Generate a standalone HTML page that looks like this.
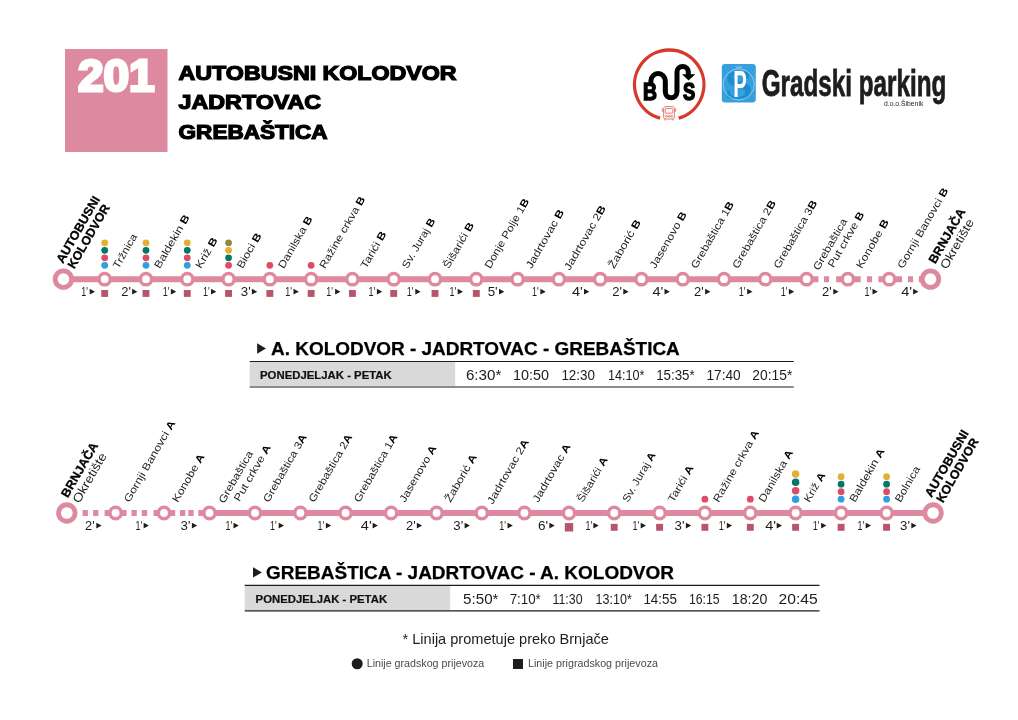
<!DOCTYPE html>
<html lang="hr"><head><meta charset="utf-8"><title>201 Autobusni kolodvor - Jadrtovac - Grebaštica</title>
<style>html,body{margin:0;padding:0;background:#fff}body{width:1018px;height:720px;overflow:hidden}svg{display:block}</style></head>
<body>
<svg width="1018" height="720" viewBox="0 0 1018 720" font-family="'Liberation Sans', 'DejaVu Sans', sans-serif" fill="#1d1d1b">
<rect width="1018" height="720" fill="#fff"/>
<rect x="65" y="49" width="102.5" height="103" fill="#DD8AA0"/>
<text x="77.9" y="90.6" font-size="44.4" font-weight="bold" fill="#fff" stroke="#fff" stroke-width="3" stroke-linejoin="miter" textLength="76.6" lengthAdjust="spacingAndGlyphs">201</text>
<text x="178.6" y="80.1" font-size="19.4" font-weight="bold" fill="#000" stroke="#000" stroke-width="1.2" stroke-linejoin="miter" textLength="278" lengthAdjust="spacingAndGlyphs">AUTOBUSNI KOLODVOR</text>
<text x="178.6" y="109.3" font-size="19.4" font-weight="bold" fill="#000" stroke="#000" stroke-width="1.2" stroke-linejoin="miter" textLength="142.5" lengthAdjust="spacingAndGlyphs">JADRTOVAC</text>
<text x="178.6" y="138.6" font-size="19.4" font-weight="bold" fill="#000" stroke="#000" stroke-width="1.2" stroke-linejoin="miter" textLength="149" lengthAdjust="spacingAndGlyphs">GREBAŠTICA</text>

<g id="bus-logo">
<path d="M660.1 118.2A34.7 34.7 0 1 1 678.7 118.1" fill="none" stroke="#D63A2C" stroke-width="3.3"/>
<g fill="#000" font-weight="bold" font-size="24.6">
<text x="643" y="99.7" textLength="14" lengthAdjust="spacingAndGlyphs" stroke="#000" stroke-width="1.5" font-size="23.4">B</text>
<text x="662.4" y="100.2" textLength="17.3" lengthAdjust="spacingAndGlyphs">U</text>
<text x="682.9" y="99.6" textLength="12.2" lengthAdjust="spacingAndGlyphs" stroke="#000" stroke-width="1.5" font-size="23">S</text>
</g>
<path d="M650.9 86V80.8A7.2 7.2 0 0 1 665.3 80.8V91.8A5.85 5.85 0 0 0 677 91.8V72.1A5.65 5.65 0 0 1 688.3 72.1V75" fill="none" stroke="#000" stroke-width="5"/>
<path d="M682 74.2H695.2L688.6 80.4z" fill="#000"/>
<g fill="none" stroke="#DE5A4E" stroke-width="0.8">
<rect x="663.6" y="106.6" width="10.8" height="12.4" rx="2"/>
<rect x="665.2" y="108.6" width="7.6" height="4.6" rx="0.6"/>
<path d="M662.4 108.4v3.4M675.6 108.4v3.4M665 119v1.6M673 119v1.6"/>
<circle cx="666.4" cy="116.3" r="0.9"/><circle cx="669" cy="116.3" r="0.9"/><circle cx="671.6" cy="116.3" r="0.9"/>
</g>
</g>
<g id="parking-logo">
<rect x="721.8" y="64" width="34" height="38.4" rx="3.2" fill="#36A0DC"/>
<text x="724.6" y="99" font-family="'Liberation Serif', 'DejaVu Serif', serif" font-weight="bold" font-size="42" fill="#1B8DD0" textLength="28.5" lengthAdjust="spacingAndGlyphs">S</text>
<circle cx="738.7" cy="84.4" r="15.6" fill="none" stroke="#fff" stroke-width="0.45"/>
<path d="M735.4 66.4l2 1.6l1.3 -1.4l1.3 1.4l2 -1.6" fill="none" stroke="#fff" stroke-width="0.5"/>
<text x="733.2" y="96.9" font-weight="bold" font-size="36.2" fill="#fff" textLength="13.6" lengthAdjust="spacingAndGlyphs">P</text>
<text x="761.7" y="95.5" font-weight="bold" font-size="37.6" fill="#1d1d1b" stroke="#1d1d1b" stroke-width="0.8" textLength="184.6" lengthAdjust="spacingAndGlyphs">Gradski parking</text>
<text x="884" y="105.8" font-size="6.6" fill="#1d1d1b" textLength="39.3" lengthAdjust="spacingAndGlyphs">d.o.o.Šibenik</text>
</g>

<g stroke="#DD8AA0" stroke-width="6" fill="none">
<path d="M63.4 279.15H818.42"/>
<path d="M823.92 279.15H829.12M836.12 279.15H847.91M847.91 279.15H860.71M866.91 279.15H872.11M878.41 279.15H889.2M889.2 279.15H902M907.9 279.15H913.1M918.8 279.15H930.49"/>
</g>
<g fill="#fff" stroke="#DD8AA0">
<circle cx="63.4" cy="279.15" r="8.25" stroke-width="4.8"/>
<circle cx="104.69" cy="279.15" r="5.65" stroke-width="3.5"/>
<circle cx="145.98" cy="279.15" r="5.65" stroke-width="3.5"/>
<circle cx="187.27" cy="279.15" r="5.65" stroke-width="3.5"/>
<circle cx="228.56" cy="279.15" r="5.65" stroke-width="3.5"/>
<circle cx="269.85" cy="279.15" r="5.65" stroke-width="3.5"/>
<circle cx="311.14" cy="279.15" r="5.65" stroke-width="3.5"/>
<circle cx="352.43" cy="279.15" r="5.65" stroke-width="3.5"/>
<circle cx="393.72" cy="279.15" r="5.65" stroke-width="3.5"/>
<circle cx="435.01" cy="279.15" r="5.65" stroke-width="3.5"/>
<circle cx="476.3" cy="279.15" r="5.65" stroke-width="3.5"/>
<circle cx="517.59" cy="279.15" r="5.65" stroke-width="3.5"/>
<circle cx="558.88" cy="279.15" r="5.65" stroke-width="3.5"/>
<circle cx="600.17" cy="279.15" r="5.65" stroke-width="3.5"/>
<circle cx="641.46" cy="279.15" r="5.65" stroke-width="3.5"/>
<circle cx="682.75" cy="279.15" r="5.65" stroke-width="3.5"/>
<circle cx="724.04" cy="279.15" r="5.65" stroke-width="3.5"/>
<circle cx="765.33" cy="279.15" r="5.65" stroke-width="3.5"/>
<circle cx="806.62" cy="279.15" r="5.65" stroke-width="3.5"/>
<circle cx="847.91" cy="279.15" r="5.65" stroke-width="3.5"/>
<circle cx="889.2" cy="279.15" r="5.65" stroke-width="3.5"/>
<circle cx="930.49" cy="279.15" r="8.25" stroke-width="4.8"/>
</g>
<g fill="#B5566B">
<rect x="101.24" y="290" width="6.9" height="6.9"/>
<rect x="142.53" y="290" width="6.9" height="6.9"/>
<rect x="183.82" y="290" width="6.9" height="6.9"/>
<rect x="225.11" y="290" width="6.9" height="6.9"/>
<rect x="266.4" y="290" width="6.9" height="6.9"/>
<rect x="307.69" y="290" width="6.9" height="6.9"/>
<rect x="348.98" y="290" width="6.9" height="6.9"/>
<rect x="390.27" y="290" width="6.9" height="6.9"/>
<rect x="431.56" y="290" width="6.9" height="6.9"/>
<rect x="472.85" y="290" width="6.9" height="6.9"/>
</g>
<circle cx="104.69" cy="265.3" r="3.4" fill="#2E9FDF"/>
<circle cx="104.69" cy="257.8" r="3.4" fill="#DD4B65"/>
<circle cx="104.69" cy="250.3" r="3.4" fill="#04776B"/>
<circle cx="104.69" cy="242.8" r="3.4" fill="#E5AE34"/>
<circle cx="145.98" cy="265.3" r="3.4" fill="#2E9FDF"/>
<circle cx="145.98" cy="257.8" r="3.4" fill="#DD4B65"/>
<circle cx="145.98" cy="250.3" r="3.4" fill="#04776B"/>
<circle cx="145.98" cy="242.8" r="3.4" fill="#E5AE34"/>
<circle cx="187.27" cy="265.3" r="3.4" fill="#2E9FDF"/>
<circle cx="187.27" cy="257.8" r="3.4" fill="#DD4B65"/>
<circle cx="187.27" cy="250.3" r="3.4" fill="#04776B"/>
<circle cx="187.27" cy="242.8" r="3.4" fill="#E5AE34"/>
<circle cx="228.56" cy="265.3" r="3.4" fill="#DD4B65"/>
<circle cx="228.56" cy="257.8" r="3.4" fill="#04776B"/>
<circle cx="228.56" cy="250.3" r="3.4" fill="#E5AE34"/>
<circle cx="228.56" cy="242.8" r="3.4" fill="#8F8A3B"/>
<circle cx="269.85" cy="265.3" r="3.4" fill="#DD4B65"/>
<circle cx="311.14" cy="265.3" r="3.4" fill="#DD4B65"/>
<g font-size="12.9">
<text x="81.3" y="295.8" textLength="6.7" lengthAdjust="spacingAndGlyphs">1'</text>
<path d="M89.7 288.8v5.8l5.3 -2.9z" fill="#1d1d1b"/>
<text x="121.3" y="295.8" textLength="9.7" lengthAdjust="spacingAndGlyphs">2'</text>
<path d="M132.1 288.8v5.8l5.3 -2.9z" fill="#1d1d1b"/>
<text x="162.7" y="295.8" textLength="6.7" lengthAdjust="spacingAndGlyphs">1'</text>
<path d="M170.9 288.8v5.8l5.3 -2.9z" fill="#1d1d1b"/>
<text x="203" y="295.8" textLength="6.7" lengthAdjust="spacingAndGlyphs">1'</text>
<path d="M211 288.8v5.8l5.3 -2.9z" fill="#1d1d1b"/>
<text x="240.8" y="295.8" textLength="9.9" lengthAdjust="spacingAndGlyphs">3'</text>
<path d="M251.9 288.8v5.8l5.3 -2.9z" fill="#1d1d1b"/>
<text x="285.3" y="295.8" textLength="6.7" lengthAdjust="spacingAndGlyphs">1'</text>
<path d="M293.5 288.8v5.8l5.3 -2.9z" fill="#1d1d1b"/>
<text x="326.3" y="295.8" textLength="6.7" lengthAdjust="spacingAndGlyphs">1'</text>
<path d="M335.1 288.8v5.8l5.3 -2.9z" fill="#1d1d1b"/>
<text x="368.5" y="295.8" textLength="6.7" lengthAdjust="spacingAndGlyphs">1'</text>
<path d="M376.9 288.8v5.8l5.3 -2.9z" fill="#1d1d1b"/>
<text x="406.8" y="295.8" textLength="6.7" lengthAdjust="spacingAndGlyphs">1'</text>
<path d="M415.3 288.8v5.8l5.3 -2.9z" fill="#1d1d1b"/>
<text x="449.4" y="295.8" textLength="6.7" lengthAdjust="spacingAndGlyphs">1'</text>
<path d="M457.7 288.8v5.8l5.3 -2.9z" fill="#1d1d1b"/>
<text x="487.7" y="295.8" textLength="10" lengthAdjust="spacingAndGlyphs">5'</text>
<path d="M499 288.8v5.8l5.3 -2.9z" fill="#1d1d1b"/>
<text x="531.9" y="295.8" textLength="6.7" lengthAdjust="spacingAndGlyphs">1'</text>
<path d="M540.4 288.8v5.8l5.3 -2.9z" fill="#1d1d1b"/>
<text x="571.9" y="295.8" textLength="10.9" lengthAdjust="spacingAndGlyphs">4'</text>
<path d="M584 288.8v5.8l5.3 -2.9z" fill="#1d1d1b"/>
<text x="612.3" y="295.8" textLength="9.7" lengthAdjust="spacingAndGlyphs">2'</text>
<path d="M623.3 288.8v5.8l5.3 -2.9z" fill="#1d1d1b"/>
<text x="652.4" y="295.8" textLength="10.9" lengthAdjust="spacingAndGlyphs">4'</text>
<path d="M664.5 288.8v5.8l5.3 -2.9z" fill="#1d1d1b"/>
<text x="694" y="295.8" textLength="9.7" lengthAdjust="spacingAndGlyphs">2'</text>
<path d="M705.1 288.8v5.8l5.3 -2.9z" fill="#1d1d1b"/>
<text x="738.7" y="295.8" textLength="6.7" lengthAdjust="spacingAndGlyphs">1'</text>
<path d="M747.2 288.8v5.8l5.3 -2.9z" fill="#1d1d1b"/>
<text x="780.7" y="295.8" textLength="6.7" lengthAdjust="spacingAndGlyphs">1'</text>
<path d="M788.9 288.8v5.8l5.3 -2.9z" fill="#1d1d1b"/>
<text x="822.1" y="295.8" textLength="9.7" lengthAdjust="spacingAndGlyphs">2'</text>
<path d="M833.3 288.8v5.8l5.3 -2.9z" fill="#1d1d1b"/>
<text x="864.4" y="295.8" textLength="6.7" lengthAdjust="spacingAndGlyphs">1'</text>
<path d="M872.5 288.8v5.8l5.3 -2.9z" fill="#1d1d1b"/>
<text x="901.2" y="295.8" textLength="10.9" lengthAdjust="spacingAndGlyphs">4'</text>
<path d="M913.1 288.8v5.8l5.3 -2.9z" fill="#1d1d1b"/>
</g>
<text transform="translate(62.9 264.05) rotate(-60)" font-size="12.3" font-weight="bold" fill="#000" stroke="#000" stroke-width="0.3" textLength="75" lengthAdjust="spacingAndGlyphs">AUTOBUSNI</text>
<text transform="translate(74.3 269.55) rotate(-60)" font-size="12.3" font-weight="bold" fill="#000" stroke="#000" stroke-width="0.3" textLength="71.8" lengthAdjust="spacingAndGlyphs">KOLODVOR</text>
<text transform="translate(118.54 269.25) rotate(-60)" font-size="10.4" textLength="37.92" lengthAdjust="spacingAndGlyphs" xml:space="preserve">Tržnica</text>
<text transform="translate(159.83 269.25) rotate(-60)" font-size="10.4" textLength="60.2" lengthAdjust="spacingAndGlyphs" xml:space="preserve">Baldekin <tspan font-weight="bold" fill="#000">B</tspan></text>
<text transform="translate(201.12 269.25) rotate(-60)" font-size="10.4" textLength="33.75" lengthAdjust="spacingAndGlyphs" xml:space="preserve">Križ <tspan font-weight="bold" fill="#000">B</tspan></text>
<text transform="translate(242.41 269.25) rotate(-60)" font-size="10.4" textLength="38.96" lengthAdjust="spacingAndGlyphs" xml:space="preserve">Bioci <tspan font-weight="bold" fill="#000">B</tspan></text>
<text transform="translate(283.7 269.25) rotate(-60)" font-size="10.4" textLength="58.47" lengthAdjust="spacingAndGlyphs" xml:space="preserve">Danilska <tspan font-weight="bold" fill="#000">B</tspan></text>
<text transform="translate(324.99 269.25) rotate(-60)" font-size="10.4" textLength="81.22" lengthAdjust="spacingAndGlyphs" xml:space="preserve">Ražine crkva <tspan font-weight="bold" fill="#000">B</tspan></text>
<text transform="translate(366.28 269.25) rotate(-60)" font-size="10.4" textLength="40.9" lengthAdjust="spacingAndGlyphs" xml:space="preserve">Tarići <tspan font-weight="bold" fill="#000">B</tspan></text>
<text transform="translate(407.57 269.25) rotate(-60)" font-size="10.4" textLength="56.2" lengthAdjust="spacingAndGlyphs" xml:space="preserve">Sv. Juraj <tspan font-weight="bold" fill="#000">B</tspan></text>
<text transform="translate(448.86 269.25) rotate(-60)" font-size="10.4" textLength="51.31" lengthAdjust="spacingAndGlyphs" xml:space="preserve">Šišarići <tspan font-weight="bold" fill="#000">B</tspan></text>
<text transform="translate(490.15 269.25) rotate(-60)" font-size="10.4" textLength="78.7" lengthAdjust="spacingAndGlyphs" xml:space="preserve">Donje Polje 1<tspan font-weight="bold" fill="#000">B</tspan></text>
<text transform="translate(531.44 269.25) rotate(-60)" font-size="10.4" textLength="66.1" lengthAdjust="spacingAndGlyphs" xml:space="preserve">Jadrtovac <tspan font-weight="bold" fill="#000">B</tspan></text>
<text transform="translate(569.78 271.05) rotate(-60)" font-size="10.4" textLength="72.8" lengthAdjust="spacingAndGlyphs" xml:space="preserve">Jadrtovac 2<tspan font-weight="bold" fill="#000">B</tspan></text>
<text transform="translate(614.02 269.25) rotate(-60)" font-size="10.4" textLength="54.3" lengthAdjust="spacingAndGlyphs" xml:space="preserve">Žaborić <tspan font-weight="bold" fill="#000">B</tspan></text>
<text transform="translate(655.31 269.25) rotate(-60)" font-size="10.4" textLength="63.69" lengthAdjust="spacingAndGlyphs" xml:space="preserve">Jasenovo <tspan font-weight="bold" fill="#000">B</tspan></text>
<text transform="translate(696.6 269.25) rotate(-60)" font-size="10.4" textLength="75.3" lengthAdjust="spacingAndGlyphs" xml:space="preserve">Grebaštica 1<tspan font-weight="bold" fill="#000">B</tspan></text>
<text transform="translate(737.89 269.25) rotate(-60)" font-size="10.4" textLength="76.68" lengthAdjust="spacingAndGlyphs" xml:space="preserve">Grebaštica 2<tspan font-weight="bold" fill="#000">B</tspan></text>
<text transform="translate(779.18 269.25) rotate(-60)" font-size="10.4" textLength="76.68" lengthAdjust="spacingAndGlyphs" xml:space="preserve">Grebaštica 3<tspan font-weight="bold" fill="#000">B</tspan></text>
<text transform="translate(818.67 270.95) rotate(-60)" font-size="10.4" textLength="57.7" lengthAdjust="spacingAndGlyphs" xml:space="preserve">Grebaštica</text>
<text transform="translate(833.47 268.35) rotate(-60)" font-size="10.4" textLength="62.5" lengthAdjust="spacingAndGlyphs" xml:space="preserve">Put crkve <tspan font-weight="bold" fill="#000">B</tspan></text>
<text transform="translate(861.76 269.25) rotate(-60)" font-size="10.4" textLength="54.7" lengthAdjust="spacingAndGlyphs" xml:space="preserve">Konobe <tspan font-weight="bold" fill="#000">B</tspan></text>
<text transform="translate(903.05 269.25) rotate(-60)" font-size="10.4" textLength="91.2" lengthAdjust="spacingAndGlyphs" xml:space="preserve">Gornji Banovci <tspan font-weight="bold" fill="#000">B</tspan></text>
<text transform="translate(935.24 264.55) rotate(-60)" font-size="12.3" font-weight="bold" fill="#000" stroke="#000" stroke-width="0.3" textLength="61.3" lengthAdjust="spacingAndGlyphs">BRNJAČA</text>
<text transform="translate(946.64 270.05) rotate(-60)" font-size="12.2" textLength="55.6" lengthAdjust="spacingAndGlyphs">Okretište</text>
<g stroke="#DD8AA0" stroke-width="6" fill="none">
<path d="M198.3 513H933.1"/>
<path d="M82.6 513H87.9M93.1 513H98.4M104.6 513H126.5M131.5 513H136.8M141.8 513H147.2M153.5 513H175.2M179.9 513H185.3M188.3 513H193.6"/>
</g>
<g fill="#fff" stroke="#DD8AA0">
<circle cx="66.8" cy="513" r="8.25" stroke-width="4.8"/>
<circle cx="115.6" cy="513" r="5.65" stroke-width="3.5"/>
<circle cx="164" cy="513" r="5.65" stroke-width="3.5"/>
<circle cx="209.5" cy="513" r="5.65" stroke-width="3.5"/>
<circle cx="255" cy="513" r="5.65" stroke-width="3.5"/>
<circle cx="300.4" cy="513" r="5.65" stroke-width="3.5"/>
<circle cx="345.6" cy="513" r="5.65" stroke-width="3.5"/>
<circle cx="391.1" cy="513" r="5.65" stroke-width="3.5"/>
<circle cx="436.6" cy="513" r="5.65" stroke-width="3.5"/>
<circle cx="481.8" cy="513" r="5.65" stroke-width="3.5"/>
<circle cx="524.4" cy="513" r="5.65" stroke-width="3.5"/>
<circle cx="569" cy="513" r="5.65" stroke-width="3.5"/>
<circle cx="614.2" cy="513" r="5.65" stroke-width="3.5"/>
<circle cx="659.6" cy="513" r="5.65" stroke-width="3.5"/>
<circle cx="704.9" cy="513" r="5.65" stroke-width="3.5"/>
<circle cx="750.3" cy="513" r="5.65" stroke-width="3.5"/>
<circle cx="795.6" cy="513" r="5.65" stroke-width="3.5"/>
<circle cx="841.1" cy="513" r="5.65" stroke-width="3.5"/>
<circle cx="886.6" cy="513" r="5.65" stroke-width="3.5"/>
<circle cx="933.1" cy="513" r="8.25" stroke-width="4.8"/>
</g>
<g fill="#B5566B">
<rect x="564.8" y="523.1" width="8.4" height="8.4"/>
<rect x="610.75" y="523.85" width="6.9" height="6.9"/>
<rect x="656.15" y="523.85" width="6.9" height="6.9"/>
<rect x="701.45" y="523.85" width="6.9" height="6.9"/>
<rect x="746.85" y="523.85" width="6.9" height="6.9"/>
<rect x="792.15" y="523.85" width="6.9" height="6.9"/>
<rect x="837.65" y="523.85" width="6.9" height="6.9"/>
<rect x="883.15" y="523.85" width="6.9" height="6.9"/>
</g>
<circle cx="704.9" cy="499.15" r="3.4" fill="#DD4B65"/>
<circle cx="750.3" cy="499.15" r="3.4" fill="#DD4B65"/>
<circle cx="795.6" cy="499.15" r="3.75" fill="#2E9FDF"/>
<circle cx="795.6" cy="490.75" r="3.75" fill="#DD4B65"/>
<circle cx="795.6" cy="482.35" r="3.75" fill="#04776B"/>
<circle cx="795.6" cy="473.95" r="3.75" fill="#E5AE34"/>
<circle cx="841.1" cy="499.15" r="3.4" fill="#2E9FDF"/>
<circle cx="841.1" cy="491.65" r="3.4" fill="#DD4B65"/>
<circle cx="841.1" cy="484.15" r="3.4" fill="#04776B"/>
<circle cx="841.1" cy="476.65" r="3.4" fill="#E5AE34"/>
<circle cx="886.6" cy="499.15" r="3.4" fill="#2E9FDF"/>
<circle cx="886.6" cy="491.65" r="3.4" fill="#DD4B65"/>
<circle cx="886.6" cy="484.15" r="3.4" fill="#04776B"/>
<circle cx="886.6" cy="476.65" r="3.4" fill="#E5AE34"/>
<g font-size="12.9">
<text x="85" y="529.65" textLength="9.7" lengthAdjust="spacingAndGlyphs">2'</text>
<path d="M96.3 522.65v5.8l5.3 -2.9z" fill="#1d1d1b"/>
<text x="135.4" y="529.65" textLength="6.7" lengthAdjust="spacingAndGlyphs">1'</text>
<path d="M143.6 522.65v5.8l5.3 -2.9z" fill="#1d1d1b"/>
<text x="180.6" y="529.65" textLength="9.9" lengthAdjust="spacingAndGlyphs">3'</text>
<path d="M191.9 522.65v5.8l5.3 -2.9z" fill="#1d1d1b"/>
<text x="225.5" y="529.65" textLength="6.7" lengthAdjust="spacingAndGlyphs">1'</text>
<path d="M233.5 522.65v5.8l5.3 -2.9z" fill="#1d1d1b"/>
<text x="270" y="529.65" textLength="6.7" lengthAdjust="spacingAndGlyphs">1'</text>
<path d="M278.7 522.65v5.8l5.3 -2.9z" fill="#1d1d1b"/>
<text x="317.4" y="529.65" textLength="6.7" lengthAdjust="spacingAndGlyphs">1'</text>
<path d="M325.9 522.65v5.8l5.3 -2.9z" fill="#1d1d1b"/>
<text x="360.8" y="529.65" textLength="10.9" lengthAdjust="spacingAndGlyphs">4'</text>
<path d="M372.6 522.65v5.8l5.3 -2.9z" fill="#1d1d1b"/>
<text x="406" y="529.65" textLength="9.7" lengthAdjust="spacingAndGlyphs">2'</text>
<path d="M416.8 522.65v5.8l5.3 -2.9z" fill="#1d1d1b"/>
<text x="453.3" y="529.65" textLength="9.9" lengthAdjust="spacingAndGlyphs">3'</text>
<path d="M464.6 522.65v5.8l5.3 -2.9z" fill="#1d1d1b"/>
<text x="499.2" y="529.65" textLength="6.7" lengthAdjust="spacingAndGlyphs">1'</text>
<path d="M507.5 522.65v5.8l5.3 -2.9z" fill="#1d1d1b"/>
<text x="538" y="529.65" textLength="10.1" lengthAdjust="spacingAndGlyphs">6'</text>
<path d="M549.4 522.65v5.8l5.3 -2.9z" fill="#1d1d1b"/>
<text x="585.5" y="529.65" textLength="6.7" lengthAdjust="spacingAndGlyphs">1'</text>
<path d="M593.4 522.65v5.8l5.3 -2.9z" fill="#1d1d1b"/>
<text x="632.5" y="529.65" textLength="6.7" lengthAdjust="spacingAndGlyphs">1'</text>
<path d="M640.7 522.65v5.8l5.3 -2.9z" fill="#1d1d1b"/>
<text x="674.6" y="529.65" textLength="9.9" lengthAdjust="spacingAndGlyphs">3'</text>
<path d="M685.9 522.65v5.8l5.3 -2.9z" fill="#1d1d1b"/>
<text x="718.8" y="529.65" textLength="6.7" lengthAdjust="spacingAndGlyphs">1'</text>
<path d="M726.8 522.65v5.8l5.3 -2.9z" fill="#1d1d1b"/>
<text x="765.2" y="529.65" textLength="10.9" lengthAdjust="spacingAndGlyphs">4'</text>
<path d="M776.7 522.65v5.8l5.3 -2.9z" fill="#1d1d1b"/>
<text x="812.7" y="529.65" textLength="6.7" lengthAdjust="spacingAndGlyphs">1'</text>
<path d="M821.1 522.65v5.8l5.3 -2.9z" fill="#1d1d1b"/>
<text x="857.6" y="529.65" textLength="6.7" lengthAdjust="spacingAndGlyphs">1'</text>
<path d="M865.7 522.65v5.8l5.3 -2.9z" fill="#1d1d1b"/>
<text x="900.1" y="529.65" textLength="9.9" lengthAdjust="spacingAndGlyphs">3'</text>
<path d="M911.3 522.65v5.8l5.3 -2.9z" fill="#1d1d1b"/>
</g>
<text transform="translate(67.8 498.4) rotate(-60)" font-size="12.3" font-weight="bold" fill="#000" stroke="#000" stroke-width="0.3" textLength="61.3" lengthAdjust="spacingAndGlyphs">BRNJAČA</text>
<text transform="translate(79.2 503.9) rotate(-60)" font-size="12.2" textLength="55.6" lengthAdjust="spacingAndGlyphs">Okretište</text>
<text transform="translate(129.45 503.1) rotate(-60)" font-size="10.4" textLength="92.4" lengthAdjust="spacingAndGlyphs" xml:space="preserve">Gornji Banovci <tspan font-weight="bold" fill="#000">A</tspan></text>
<text transform="translate(177.85 503.1) rotate(-60)" font-size="10.4" textLength="53.94" lengthAdjust="spacingAndGlyphs" xml:space="preserve">Konobe <tspan font-weight="bold" fill="#000">A</tspan></text>
<text transform="translate(224.15 503.9) rotate(-60)" font-size="10.4" textLength="58.4" lengthAdjust="spacingAndGlyphs" xml:space="preserve">Grebaštica</text>
<text transform="translate(239.55 502.2) rotate(-60)" font-size="10.4" textLength="63.5" lengthAdjust="spacingAndGlyphs" xml:space="preserve">Put crkve <tspan font-weight="bold" fill="#000">A</tspan></text>
<text transform="translate(268.85 503.1) rotate(-60)" font-size="10.4" textLength="76.68" lengthAdjust="spacingAndGlyphs" xml:space="preserve">Grebaštica 3<tspan font-weight="bold" fill="#000">A</tspan></text>
<text transform="translate(314.25 503.1) rotate(-60)" font-size="10.4" textLength="76.68" lengthAdjust="spacingAndGlyphs" xml:space="preserve">Grebaštica 2<tspan font-weight="bold" fill="#000">A</tspan></text>
<text transform="translate(359.45 503.1) rotate(-60)" font-size="10.4" textLength="76.68" lengthAdjust="spacingAndGlyphs" xml:space="preserve">Grebaštica 1<tspan font-weight="bold" fill="#000">A</tspan></text>
<text transform="translate(404.95 503.1) rotate(-60)" font-size="10.4" textLength="63.69" lengthAdjust="spacingAndGlyphs" xml:space="preserve">Jasenovo <tspan font-weight="bold" fill="#000">A</tspan></text>
<text transform="translate(450.45 503.1) rotate(-60)" font-size="10.4" textLength="53.6" lengthAdjust="spacingAndGlyphs" xml:space="preserve">Žaborić <tspan font-weight="bold" fill="#000">A</tspan></text>
<text transform="translate(492.7 504.9) rotate(-60)" font-size="10.4" textLength="72.8" lengthAdjust="spacingAndGlyphs" xml:space="preserve">Jadrtovac 2<tspan font-weight="bold" fill="#000">A</tspan></text>
<text transform="translate(538.25 503.1) rotate(-60)" font-size="10.4" textLength="65.5" lengthAdjust="spacingAndGlyphs" xml:space="preserve">Jadrtovac <tspan font-weight="bold" fill="#000">A</tspan></text>
<text transform="translate(582.85 503.1) rotate(-60)" font-size="10.4" textLength="50.3" lengthAdjust="spacingAndGlyphs" xml:space="preserve">Šišarići <tspan font-weight="bold" fill="#000">A</tspan></text>
<text transform="translate(628.05 503.1) rotate(-60)" font-size="10.4" textLength="55.9" lengthAdjust="spacingAndGlyphs" xml:space="preserve">Sv. Juraj <tspan font-weight="bold" fill="#000">A</tspan></text>
<text transform="translate(673.45 503.1) rotate(-60)" font-size="10.4" textLength="40.9" lengthAdjust="spacingAndGlyphs" xml:space="preserve">Tarići <tspan font-weight="bold" fill="#000">A</tspan></text>
<text transform="translate(718.75 503.1) rotate(-60)" font-size="10.4" textLength="81.22" lengthAdjust="spacingAndGlyphs" xml:space="preserve">Ražine crkva <tspan font-weight="bold" fill="#000">A</tspan></text>
<text transform="translate(764.15 503.1) rotate(-60)" font-size="10.4" textLength="58.47" lengthAdjust="spacingAndGlyphs" xml:space="preserve">Danilska <tspan font-weight="bold" fill="#000">A</tspan></text>
<text transform="translate(809.45 503.1) rotate(-60)" font-size="10.4" textLength="32.5" lengthAdjust="spacingAndGlyphs" xml:space="preserve">Križ <tspan font-weight="bold" fill="#000">A</tspan></text>
<text transform="translate(854.95 503.1) rotate(-60)" font-size="10.4" textLength="60.2" lengthAdjust="spacingAndGlyphs" xml:space="preserve">Baldekin <tspan font-weight="bold" fill="#000">A</tspan></text>
<text transform="translate(900.45 503.1) rotate(-60)" font-size="10.4" textLength="39.7" lengthAdjust="spacingAndGlyphs" xml:space="preserve">Bolnica</text>
<text transform="translate(931.6 498) rotate(-60)" font-size="12.3" font-weight="bold" fill="#000" stroke="#000" stroke-width="0.3" textLength="75" lengthAdjust="spacingAndGlyphs">AUTOBUSNI</text>
<text transform="translate(943 503.5) rotate(-60)" font-size="12.3" font-weight="bold" fill="#000" stroke="#000" stroke-width="0.3" textLength="71.8" lengthAdjust="spacingAndGlyphs">KOLODVOR</text>
<path d="M257.1 343.3v10.4l8.9 -5.2z" fill="#1d1d1b"/>
<text x="271" y="354.8" font-size="17.8" font-weight="bold" fill="#000" stroke="#000" stroke-width="0.25" textLength="408.8" lengthAdjust="spacingAndGlyphs">A. KOLODVOR - JADRTOVAC - GREBAŠTICA</text>
<rect x="249.7" y="362" width="205.5" height="24.2" fill="#d9d9d9"/>
<path d="M249.7 361.5H793.7M249.7 387H793.7" stroke="#1d1d1b" stroke-width="1.1" fill="none"/>
<text x="260" y="378.7" font-size="10.4" font-weight="bold" fill="#111" stroke="#111" stroke-width="0.2" textLength="131.8" lengthAdjust="spacingAndGlyphs">PONEDJELJAK - PETAK</text>
<text x="465.9" y="380.2" font-size="14.8" textLength="35.4" lengthAdjust="spacingAndGlyphs">6:30*</text>
<text x="512.9" y="380.2" font-size="14.8" textLength="36.1" lengthAdjust="spacingAndGlyphs">10:50</text>
<text x="561.4" y="380.2" font-size="14.8" textLength="33.6" lengthAdjust="spacingAndGlyphs">12:30</text>
<text x="608" y="380.2" font-size="14.8" textLength="36.5" lengthAdjust="spacingAndGlyphs">14:10*</text>
<text x="656.2" y="380.2" font-size="14.8" textLength="38.5" lengthAdjust="spacingAndGlyphs">15:35*</text>
<text x="706.4" y="380.2" font-size="14.8" textLength="34.3" lengthAdjust="spacingAndGlyphs">17:40</text>
<text x="752.3" y="380.2" font-size="14.8" textLength="40" lengthAdjust="spacingAndGlyphs">20:15*</text>
<path d="M253 567.2v10.4l8.9 -5.2z" fill="#1d1d1b"/>
<text x="266" y="578.7" font-size="17.8" font-weight="bold" fill="#000" stroke="#000" stroke-width="0.25" textLength="408" lengthAdjust="spacingAndGlyphs">GREBAŠTICA - JADRTOVAC - A. KOLODVOR</text>
<rect x="244.7" y="585.9" width="205.5" height="24.2" fill="#d9d9d9"/>
<path d="M244.7 585.4H819.5M244.7 610.9H819.5" stroke="#1d1d1b" stroke-width="1.1" fill="none"/>
<text x="255.6" y="602.6" font-size="10.4" font-weight="bold" fill="#111" stroke="#111" stroke-width="0.2" textLength="131.5" lengthAdjust="spacingAndGlyphs">PONEDJELJAK - PETAK</text>
<text x="463.1" y="604.1" font-size="14.8" textLength="35.4" lengthAdjust="spacingAndGlyphs">5:50*</text>
<text x="509.7" y="604.1" font-size="14.8" textLength="31" lengthAdjust="spacingAndGlyphs">7:10*</text>
<text x="552.6" y="604.1" font-size="14.8" textLength="29.9" lengthAdjust="spacingAndGlyphs">11:30</text>
<text x="595.6" y="604.1" font-size="14.8" textLength="36.2" lengthAdjust="spacingAndGlyphs">13:10*</text>
<text x="643.4" y="604.1" font-size="14.8" textLength="33.6" lengthAdjust="spacingAndGlyphs">14:55</text>
<text x="688.9" y="604.1" font-size="14.8" textLength="30.6" lengthAdjust="spacingAndGlyphs">16:15</text>
<text x="731.8" y="604.1" font-size="14.8" textLength="35.5" lengthAdjust="spacingAndGlyphs">18:20</text>
<text x="778.5" y="604.1" font-size="14.8" textLength="39.2" lengthAdjust="spacingAndGlyphs">20:45</text>
<text x="402.5" y="644" font-size="14.3" textLength="206.4" lengthAdjust="spacingAndGlyphs">* Linija prometuje preko Brnjače</text>
<circle cx="357.2" cy="663.75" r="5.5" fill="#1d1d1b"/>
<text x="366.7" y="667.1" font-size="10" fill="#4a4a4a" textLength="117.6" lengthAdjust="spacingAndGlyphs">Linije gradskog prijevoza</text>
<rect x="513" y="659" width="10" height="10" fill="#1d1d1b"/>
<text x="528" y="667.1" font-size="10" fill="#4a4a4a" textLength="130" lengthAdjust="spacingAndGlyphs">Linije prigradskog prijevoza</text>
</svg>
</body></html>
